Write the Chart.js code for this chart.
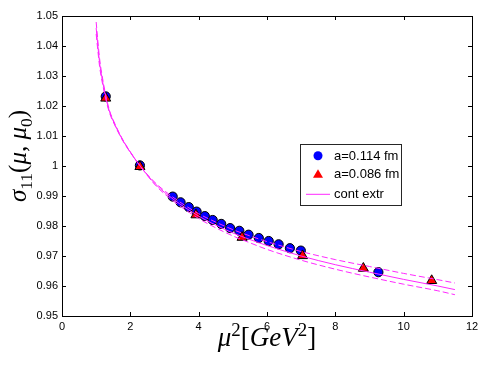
<!DOCTYPE html>
<html>
<head>
<meta charset="utf-8">
<script src="https://cdn.jsdelivr.net/npm/chart.js@4/dist/chart.umd.min.js"></script>
<style>html,body{margin:0;padding:0;background:#fff}</style>
</head>
<body>
<canvas id="graph" width="491" height="369"></canvas>
<script>
// a=0.114 fm
const coarseX = [1.28, 2.28, 3.24, 3.47, 3.71, 3.94, 4.18, 4.41, 4.66, 4.92, 5.19, 5.46, 5.76, 6.05, 6.34, 6.67, 6.99, 9.26];
const coarseY = [1.0232, 1.0002, 0.9898, 0.9879, 0.9863, 0.9848, 0.9833, 0.9820, 0.9807, 0.9793, 0.9784, 0.9771, 0.9760, 0.9750, 0.9739, 0.9726, 0.9718, 0.9646];
// a=0.086 fm
const fineX = [1.28, 2.28, 3.92, 5.27, 7.04, 8.82, 10.82];
const fineY = [1.0226, 0.9998, 0.9837, 0.9762, 0.9701, 0.9659, 0.9618];
// continuum extrapolation and its band
const extrX = [1.0, 1.05, 1.1, 1.2, 1.3, 1.4, 1.5, 1.75, 2.0, 2.3, 2.75, 3.25, 4.0, 4.5, 5.0, 5.5, 6.0, 7.0, 8.0, 9.0, 10.0, 11.0, 11.5];
const extrY = [1.0460, 1.0400, 1.0345, 1.0275, 1.0220, 1.0178, 1.0150, 1.0092, 1.0046, 0.9998, 0.9938, 0.9890, 0.9833, 0.9803, 0.9777, 0.9755, 0.9735, 0.9700, 0.9671, 0.9646, 0.9622, 0.9600, 0.9588];
const extrHi = [1.0480, 1.0416, 1.0358, 1.0284, 1.0226, 1.0182, 1.0153, 1.0094, 1.0047, 0.9998, 0.9942, 0.9896, 0.9841, 0.9813, 0.9788, 0.9767, 0.9748, 0.9715, 0.9688, 0.9665, 0.9642, 0.9621, 0.9610];
const extrLo = [1.0440, 1.0384, 1.0332, 1.0266, 1.0214, 1.0174, 1.0147, 1.0090, 1.0045, 0.9998, 0.9934, 0.9884, 0.9825, 0.9794, 0.9767, 0.9744, 0.9722, 0.9686, 0.9656, 0.9630, 0.9606, 0.9584, 0.9571];

const pts = (xs, ys) => xs.map((x, i) => ({x: x, y: ys[i]}));
const magenta = 'rgb(255,40,255)';
const sans = '"Liberation Sans", Arial, sans-serif';
const serif = '"Liberation Serif", "Times New Roman", serif';

// draw a label made of pieces (italic letters, sub/superscripts)
function richText(ctx, parts, size) {
    let w = 0;
    parts.forEach(p => {
        const s = p.sub || p.sup ? size * 0.7 : size;
        ctx.font = (p.it ? 'italic ' : '') + s + 'px ' + serif;
        p.w = ctx.measureText(p.t).width;
        p.s = s;
        w += p.w;
    });
    let x = -w / 2;
    parts.forEach(p => {
        ctx.font = (p.it ? 'italic ' : '') + p.s + 'px ' + serif;
        const dy = p.sub ? size * 0.25 : (p.sup ? -size * 0.38 : 0);
        ctx.fillText(p.t, x, dy);
        x += p.w;
    });
}

const frame = {
    id: 'frame',
    afterDatasetsDraw(chart) {
        const ctx = chart.ctx, a = chart.chartArea;
        const xs = chart.scales.x, ys = chart.scales.y;
        ctx.save();
        ctx.strokeStyle = '#000';
        ctx.lineWidth = 1;
        ctx.strokeRect(Math.round(a.left) + 0.5, Math.round(a.top) + 0.5, Math.round(a.right - a.left), Math.round(a.bottom - a.top));
        ctx.beginPath();
        xs.ticks.forEach(t => {
            const px = Math.round(xs.getPixelForValue(t.value)) + 0.5;
            ctx.moveTo(px, a.bottom); ctx.lineTo(px, a.bottom - 4);
            ctx.moveTo(px, a.top); ctx.lineTo(px, a.top + 4);
        });
        ys.ticks.forEach(t => {
            const py = Math.round(ys.getPixelForValue(t.value)) + 0.5;
            ctx.moveTo(a.left, py); ctx.lineTo(a.left + 4, py);
            ctx.moveTo(a.right, py); ctx.lineTo(a.right - 4, py);
        });
        ctx.stroke();

        // legend
        const ds = chart.data.datasets;
        const bx = 300.5, by = 144.5, bw = 101, bh = 61;
        ctx.fillStyle = '#fff';
        ctx.fillRect(bx, by, bw, bh);
        ctx.strokeStyle = '#262626';
        ctx.strokeRect(bx, by, bw, bh);
        const rows = [155.7, 174.3, 194.3];
        const items = [ds[3], ds[2], ds[0]];
        ctx.font = '13px ' + sans;
        ctx.textBaseline = 'middle';
        ctx.textAlign = 'left';
        items.forEach((d, i) => {
            const y = rows[i];
            if (i === 2) {
                ctx.strokeStyle = d.borderColor;
                ctx.lineWidth = 1;
                ctx.beginPath();
                ctx.moveTo(306, y); ctx.lineTo(330, y);
                ctx.stroke();
            } else {
                ctx.fillStyle = d.pointBackgroundColor;
                ctx.beginPath();
                if (i === 0) {
                    ctx.arc(318, y, 4.5, 0, Math.PI * 2);
                } else {
                    ctx.moveTo(318, y - 5); ctx.lineTo(323, y + 3.5); ctx.lineTo(313, y + 3.5); ctx.closePath();
                }
                ctx.fill();
            }
            ctx.fillStyle = '#000';
            ctx.fillText(d.label, 334, y + 0.5);
        });

        // axis titles
        ctx.fillStyle = '#000';
        ctx.textAlign = 'left';
        ctx.textBaseline = 'alphabetic';
        ctx.save();
        ctx.translate((a.left + a.right) / 2, 346);
        richText(ctx, [{t: 'μ', it: 1}, {t: '2', sup: 1}, {t: '['}, {t: 'GeV', it: 1}, {t: '2', sup: 1}, {t: ']'}], 27);
        ctx.restore();
        ctx.save();
        ctx.translate(26, 156);
        ctx.rotate(-Math.PI / 2);
        richText(ctx, [{t: 'σ', it: 1}, {t: '11', sub: 1}, {t: '('}, {t: 'μ', it: 1}, {t: ', '}, {t: 'μ', it: 1}, {t: '0', sub: 1}, {t: ')'}], 25);
        ctx.restore();
        ctx.restore();
    }
};

new Chart(document.getElementById('graph'), {
    type: 'scatter',
    data: {
        datasets: [
            {
                label: 'cont extr',
                data: pts(extrX, extrY),
                showLine: true,
                borderColor: magenta,
                borderWidth: 1,
                pointRadius: 0,
                cubicInterpolationMode: 'monotone',
                order: 0
            },
            {
                label: 'band upper',
                data: pts(extrX, extrHi),
                showLine: true,
                borderColor: magenta,
                borderWidth: 1,
                borderDash: [6, 3],
                pointRadius: 0,
                cubicInterpolationMode: 'monotone',
                order: 0
            },
            {
                label: 'a=0.086 fm',
                data: pts(fineX, fineY),
                pointStyle: 'triangle',
                pointRadius: 5.8,
                pointBackgroundColor: '#ff0000',
                pointBorderColor: '#000',
                pointBorderWidth: 1,
                order: 1
            },
            {
                label: 'a=0.114 fm',
                data: pts(coarseX, coarseY),
                pointStyle: 'circle',
                pointRadius: 4.6,
                pointBackgroundColor: '#0000ff',
                pointBorderColor: '#000',
                pointBorderWidth: 1,
                order: 2
            },
            {
                label: 'band lower',
                data: pts(extrX, extrLo),
                showLine: true,
                borderColor: magenta,
                borderWidth: 1,
                borderDash: [6, 3],
                pointRadius: 0,
                cubicInterpolationMode: 'monotone',
                order: 0
            }
        ]
    },
    options: {
        responsive: false,
        animation: false,
        events: [],
        layout: {padding: {left: 0, right: 19, top: 16, bottom: 0}},
        plugins: {legend: {display: false}, tooltip: {enabled: false}},
        scales: {
            x: {
                type: 'linear',
                min: 0, max: 12,
                grid: {display: false, drawTicks: false},
                border: {display: false},
                ticks: {stepSize: 2, padding: 4, color: '#000', font: {family: sans, size: 11}},
                afterFit(s) { s.height = 53; }
            },
            y: {
                type: 'linear',
                min: 0.95, max: 1.05,
                grid: {display: false, drawTicks: false},
                border: {display: false},
                ticks: {
                    stepSize: 0.01, padding: 4, color: '#000', font: {family: sans, size: 11},
                    callback: v => String(Number(v.toFixed(2)))
                },
                afterFit(s) { s.width = 62; }
            }
        }
    },
    plugins: [frame]
});
</script>
</body>
</html>
